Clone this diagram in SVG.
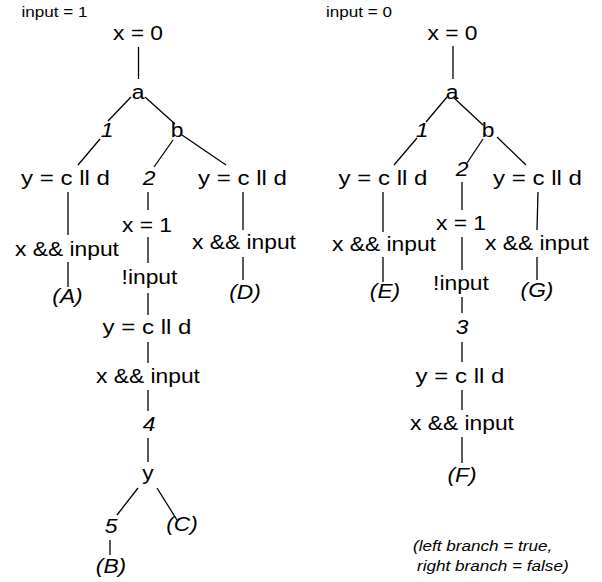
<svg xmlns="http://www.w3.org/2000/svg" width="602" height="582" viewBox="0 0 602 582">
<style>
text{font-family:"Liberation Sans",Arial,Helvetica,sans-serif;fill:#000}
.n{font-size:20px;text-anchor:middle}
.e{font-size:20px;text-anchor:middle;font-style:italic}
.s{font-size:15px}
.si{font-size:15px;font-style:italic}
.c line{stroke:#000;stroke-width:1.3;fill:none}
</style>
<rect width="602" height="582" fill="#fff"/>
<g class="c" id="connectors">
<line x1="138.5" y1="47" x2="138.5" y2="79"/>
<line x1="131" y1="97" x2="108" y2="121"/>
<line x1="100" y1="139" x2="78" y2="165"/>
<line x1="145" y1="97" x2="175" y2="124"/>
<line x1="173" y1="140" x2="154" y2="167"/>
<line x1="182" y1="135" x2="226" y2="165"/>
<line x1="68" y1="192" x2="68" y2="235"/>
<line x1="68" y1="262" x2="68" y2="287"/>
<line x1="148" y1="192" x2="148" y2="210"/>
<line x1="148" y1="237" x2="148" y2="263"/>
<line x1="148" y1="293" x2="148" y2="315"/>
<line x1="148" y1="342" x2="148" y2="363"/>
<line x1="243" y1="192" x2="243" y2="230"/>
<line x1="243" y1="257" x2="243" y2="280"/>
<line x1="148" y1="390" x2="148" y2="411"/>
<line x1="148" y1="438" x2="148" y2="462"/>
<line x1="138" y1="488" x2="117" y2="515"/>
<line x1="110" y1="540" x2="110" y2="555"/>
<line x1="157" y1="488" x2="177" y2="520"/>
<line x1="453" y1="46" x2="453" y2="79"/>
<line x1="447" y1="97" x2="426" y2="122"/>
<line x1="417" y1="138" x2="394" y2="165"/>
<line x1="453" y1="97" x2="483" y2="125"/>
<line x1="483" y1="139" x2="467" y2="163"/>
<line x1="497" y1="137" x2="526" y2="165"/>
<line x1="383" y1="192" x2="383" y2="232"/>
<line x1="383" y1="257" x2="383" y2="282"/>
<line x1="462" y1="182" x2="462" y2="210"/>
<line x1="462" y1="237" x2="462" y2="270"/>
<line x1="462" y1="297" x2="462" y2="313"/>
<line x1="462" y1="342" x2="462" y2="362"/>
<line x1="538" y1="192" x2="537" y2="230"/>
<line x1="537" y1="257" x2="537" y2="280"/>
<line x1="462" y1="390" x2="462" y2="410"/>
<line x1="462" y1="437" x2="462" y2="463"/>
</g>
<g id="left-tree">
<g id="L-title"><text class="s" x="21.5" y="17" textLength="66" lengthAdjust="spacingAndGlyphs">input = 1</text></g>
<g id="L-x0"><text class="n" x="138" y="40" textLength="50" lengthAdjust="spacingAndGlyphs">x = 0</text></g>
<g id="L-a"><text class="n" x="138" y="99" textLength="12.7" lengthAdjust="spacingAndGlyphs">a</text></g>
<g id="L-e1"><text class="e" x="107" y="137" textLength="12.7" lengthAdjust="spacingAndGlyphs">1</text></g>
<g id="L-b"><text class="n" x="177" y="137" textLength="12.7" lengthAdjust="spacingAndGlyphs">b</text></g>
<g id="L-y1"><text class="n" x="65.5" y="185" textLength="88.8" lengthAdjust="spacingAndGlyphs">y = c ll d</text></g>
<g id="L-e2"><text class="e" x="149" y="185" textLength="12.7" lengthAdjust="spacingAndGlyphs">2</text></g>
<g id="L-y3"><text class="n" x="242.5" y="185" textLength="88.8" lengthAdjust="spacingAndGlyphs">y = c ll d</text></g>
<g id="L-xi1"><text class="n" x="67" y="256" textLength="103.9" lengthAdjust="spacingAndGlyphs">x &amp;&amp; input</text></g>
<g id="L-x1"><text class="n" x="147" y="232" textLength="50" lengthAdjust="spacingAndGlyphs">x = 1</text></g>
<g id="L-xi3"><text class="n" x="244" y="249" textLength="103.9" lengthAdjust="spacingAndGlyphs">x &amp;&amp; input</text></g>
<g id="L-A"><text class="e" x="67.5" y="303" textLength="30.4" lengthAdjust="spacingAndGlyphs">(A)</text></g>
<g id="L-ninput"><text class="n" x="149.5" y="284" textLength="55.8" lengthAdjust="spacingAndGlyphs">!input</text></g>
<g id="L-D"><text class="e" x="245" y="299" textLength="31.6" lengthAdjust="spacingAndGlyphs">(D)</text></g>
<g id="L-y2"><text class="n" x="147" y="334" textLength="88.8" lengthAdjust="spacingAndGlyphs">y = c ll d</text></g>
<g id="L-xi2"><text class="n" x="148" y="383" textLength="103.9" lengthAdjust="spacingAndGlyphs">x &amp;&amp; input</text></g>
<g id="L-e4"><text class="e" x="149" y="431" textLength="12.7" lengthAdjust="spacingAndGlyphs">4</text></g>
<g id="L-y"><text class="n" x="148" y="480" textLength="11.4" lengthAdjust="spacingAndGlyphs">y</text></g>
<g id="L-e5"><text class="e" x="111" y="533" textLength="12.7" lengthAdjust="spacingAndGlyphs">5</text></g>
<g id="L-C"><text class="e" x="182" y="531" textLength="31.6" lengthAdjust="spacingAndGlyphs">(C)</text></g>
<g id="L-B"><text class="e" x="111" y="573" textLength="30.4" lengthAdjust="spacingAndGlyphs">(B)</text></g>
</g>
<g id="right-tree">
<g id="R-title"><text class="s" x="326" y="17" textLength="66" lengthAdjust="spacingAndGlyphs">input = 0</text></g>
<g id="R-x0"><text class="n" x="452.5" y="40" textLength="50" lengthAdjust="spacingAndGlyphs">x = 0</text></g>
<g id="R-a"><text class="n" x="452" y="99" textLength="12.7" lengthAdjust="spacingAndGlyphs">a</text></g>
<g id="R-e1"><text class="e" x="422" y="137" textLength="12.7" lengthAdjust="spacingAndGlyphs">1</text></g>
<g id="R-b"><text class="n" x="488" y="137" textLength="12.7" lengthAdjust="spacingAndGlyphs">b</text></g>
<g id="R-e2"><text class="e" x="462" y="176" textLength="12.7" lengthAdjust="spacingAndGlyphs">2</text></g>
<g id="R-y1"><text class="n" x="383" y="185" textLength="88.8" lengthAdjust="spacingAndGlyphs">y = c ll d</text></g>
<g id="R-y3"><text class="n" x="537.5" y="185" textLength="88.8" lengthAdjust="spacingAndGlyphs">y = c ll d</text></g>
<g id="R-x1"><text class="n" x="461" y="230" textLength="50" lengthAdjust="spacingAndGlyphs">x = 1</text></g>
<g id="R-xi1"><text class="n" x="384" y="251" textLength="103.9" lengthAdjust="spacingAndGlyphs">x &amp;&amp; input</text></g>
<g id="R-xi3"><text class="n" x="537" y="250" textLength="103.9" lengthAdjust="spacingAndGlyphs">x &amp;&amp; input</text></g>
<g id="R-ninput"><text class="n" x="461" y="290" textLength="55.8" lengthAdjust="spacingAndGlyphs">!input</text></g>
<g id="R-E"><text class="e" x="385" y="298" textLength="30.4" lengthAdjust="spacingAndGlyphs">(E)</text></g>
<g id="R-G"><text class="e" x="537" y="297" textLength="32.9" lengthAdjust="spacingAndGlyphs">(G)</text></g>
<g id="R-e3"><text class="e" x="462" y="334" textLength="12.7" lengthAdjust="spacingAndGlyphs">3</text></g>
<g id="R-y2"><text class="n" x="460" y="383" textLength="88.8" lengthAdjust="spacingAndGlyphs">y = c ll d</text></g>
<g id="R-xi2"><text class="n" x="462" y="430" textLength="103.9" lengthAdjust="spacingAndGlyphs">x &amp;&amp; input</text></g>
<g id="R-F"><text class="e" x="462" y="482" textLength="29.1" lengthAdjust="spacingAndGlyphs">(F)</text></g>
</g>
<g id="legend">
<text class="si" x="413" y="551" textLength="139.2" lengthAdjust="spacingAndGlyphs">(left branch = true,</text>
<text class="si" x="417" y="571" textLength="151.6" lengthAdjust="spacingAndGlyphs">right branch = false)</text>
</g>
</svg>
